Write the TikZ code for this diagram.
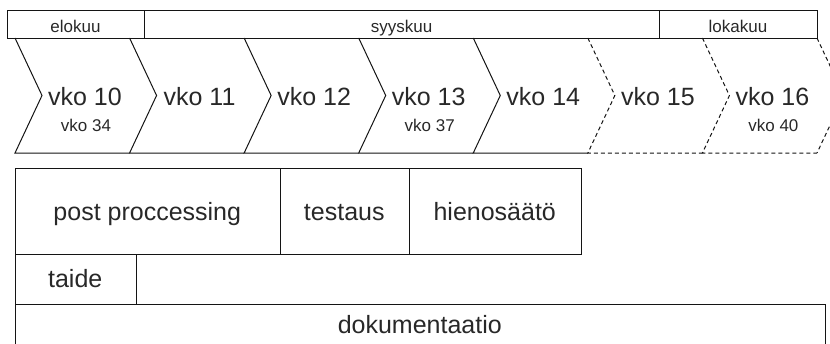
\documentclass[tikz,border=0pt]{standalone}
\usepackage{fontspec}
\setmainfont{Liberation Sans}
\definecolor{txt}{RGB}{40,40,40}
\definecolor{ln}{RGB}{20,20,20}
\begin{document}
\begin{tikzpicture}[x=1pt,y=-1pt,line width=1pt,draw=ln,
  box/.style={draw=ln,inner sep=0pt,anchor=north west},
  lbl/.style={text=txt,anchor=base,inner sep=0pt},
  big/.style={lbl,font=\fontsize{25}{30}\selectfont},
  small/.style={lbl,font=\fontsize{17}{20}\selectfont},
  dashline/.style={dash pattern=on 4pt off 3pt}]
\useasboundingbox (0,0) rectangle (830,343);
% month bar
\node[box,minimum width=137pt,minimum height=28pt] (elo) at (7,10) {};
\node[box,minimum width=515pt,minimum height=28pt] (syys) at (144,10) {};
\node[box,minimum width=158pt,minimum height=28pt] (loka) at (659,10) {};
\node[small] (elot) at (75.5,32) {elokuu};
\node[small] (syyst) at (401.5,32) {syyskuu};
\node[small] (lokat) at (738,32) {lokakuu};
% chevrons
\foreach \i in {0,...,4}{
  \draw[line join=miter] ({15+114.57*\i},38) -- ++(27,57.5) -- ++(-27,57.5) -- ++(114.57,0);
}
\foreach \i in {5,6}{
  \draw[dashline] ({15+114.57*\i},38) -- ++(27,57.5) -- ++(-27,57.5) -- ++(114.57,0);
}
\draw[dashline] ({15+114.57*7},38) -- ++(27,57.5) -- ++(-27,57.5);
% week labels
\node[big] (w10) at ({15+114.57*0+70},105) {vko 10};
\node[big] (w11) at ({15+114.57*1+70},105) {vko 11};
\node[big] (w12) at ({15+114.57*2+70},105) {vko 12};
\node[big] (w13) at ({15+114.57*3+70},105) {vko 13};
\node[big] (w14) at ({15+114.57*4+70},105) {vko 14};
\node[big] (w15) at ({15+114.57*5+70},105) {vko 15};
\node[big] (w16) at ({15+114.57*6+70},105) {vko 16};
\node[small] (w34) at ({15+114.57*0+71},131) {vko 34};
\node[small] (w37) at ({15+114.57*3+71},131) {vko 37};
\node[small] (w40) at ({15+114.57*6+71},131) {vko 40};
% tasks
\node[box,minimum width=265.5pt,minimum height=86pt] (post) at (14.5,168) {};
\node[box,minimum width=128.5pt,minimum height=86pt] (test) at (280,168) {};
\node[box,minimum width=172.5pt,minimum height=86pt] (hien) at (408.5,168) {};
\node[box,minimum width=121.5pt,minimum height=50pt] (taide) at (14.5,254) {};
\node[box,minimum width=810.5pt,minimum height=44pt] (doku) at (14.5,304) {};
\node[big] (postt) at (147.25,220) {post proccessing};
\node[big] (testt) at (344.25,220) {testaus};
\node[big] (hient) at (494.75,220) {hienosäätö};
\node[big] (taidet) at (75.25,287) {taide};
\node[big] (dokut) at (419.75,333) {dokumentaatio};
\end{tikzpicture}
\end{document}
